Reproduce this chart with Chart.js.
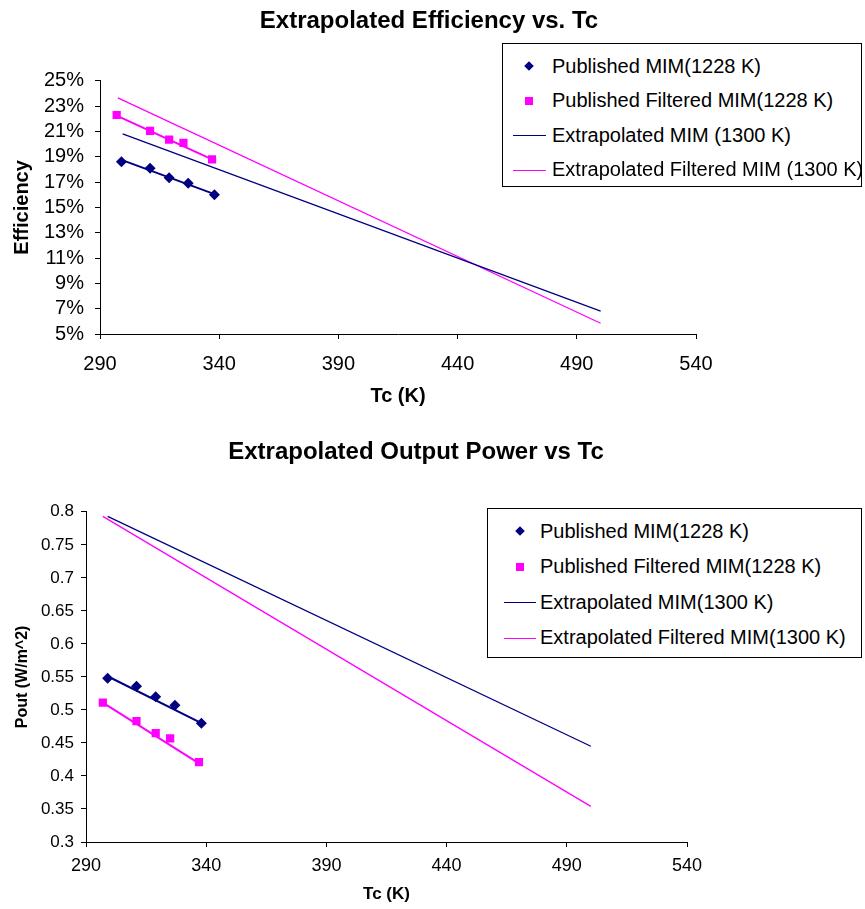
<!DOCTYPE html>
<html>
<head>
<meta charset="utf-8">
<script src="https://cdn.jsdelivr.net/npm/chart.js@4.4.1/dist/chart.umd.min.js"></script>
<style>
  body { margin: 0; background: #fff; width: 865px; height: 909px; position: relative; overflow: hidden; }
  canvas { position: absolute; left: 0; }
  #effChart { top: 0; }
  #powChart { top: 425px; }
  .legend { position: absolute; border: 1px solid #000; background: #fff; box-sizing: border-box;
            font-family: "Liberation Sans", Arial, sans-serif; font-size: 20px; color: #000; }
  .row { position: absolute; left: 0; right: 0; display: flex; align-items: center; white-space: nowrap; }
  .slot { position: relative; flex: none; height: 100%; }
  .mk { position: absolute; top: 50%; }
</style>
</head>
<body>
<canvas id="effChart" width="858" height="425"></canvas>
<canvas id="powChart" width="832" height="484"></canvas>
<div class="legend" id="effLegend" style="left:502px;top:43px;width:360px;height:144px"></div>
<div class="legend" id="powLegend" style="left:487px;top:508px;width:375px;height:150px"></div>
<script>
// ---- data ----
const tcPubMIM = [299, 311, 319, 327, 338];
const tcPubFilt = [297, 311, 319, 325, 337];

// efficiency (%)
const effPubMIM = [18.6, 18.1, 17.35, 16.9, 16.0];
const effPubFilt = [22.3, 21.05, 20.35, 20.1, 18.8];
const effTrendMIMTc = [299, 338];
const effTrendMIM = [18.75, 16.05];
const effTrendFiltTc = [297, 337];
const effTrendFilt = [22.25, 18.8];
const effExtMIMTc = [299.5, 500];
const effExtMIM = [20.8, 6.8];
const effExtFiltTc = [297.5, 500];
const effExtFilt = [23.65, 5.85];

// output power (W/m^2)
const powPubMIM = [0.548, 0.536, 0.520, 0.507, 0.480];
const powPubFilt = [0.511, 0.483, 0.465, 0.457, 0.421];
const powTrendMIMTc = [299, 338];
const powTrendMIM = [0.551, 0.480];
const powTrendFiltTc = [297, 337];
const powTrendFilt = [0.511, 0.419];
const powExtMIMTc = [299, 500];
const powExtMIM = [0.793, 0.445];
const powExtFiltTc = [297, 500];
const powExtFilt = [0.793, 0.354];

const xTicks = [290, 340, 390, 440, 490, 540];

const NAVY = "#000080";
const MAGENTA = "#FF00FF";
const FONT = "'Liberation Sans', Arial, sans-serif";

const pts = (xs, ys) => xs.map((x, i) => ({ x: x, y: ys[i] }));

function makeDatasets(pubMIM, pubFilt, trMIMTc, trMIM, trFiltTc, trFilt, exMIMTc, exMIM, exFiltTc, exFilt, labels) {
    return [
        { label: labels[0], kind: "diamond", data: pts(tcPubMIM, pubMIM), showLine: false,
          pointStyle: "rectRot", pointRadius: 5.5, backgroundColor: NAVY, borderColor: NAVY, borderWidth: 0, order: 0 },
        { label: labels[1], kind: "square", data: pts(tcPubFilt, pubFilt), showLine: false,
          pointStyle: "rect", pointRadius: 5.8, backgroundColor: MAGENTA, borderColor: MAGENTA, borderWidth: 0, order: 0 },
        { label: labels[2], kind: "line", data: pts(exMIMTc, exMIM), showLine: true, pointRadius: 0,
          borderColor: NAVY, backgroundColor: NAVY, borderWidth: 1.3, order: 2 },
        { label: labels[3], kind: "line", data: pts(exFiltTc, exFilt), showLine: true, pointRadius: 0,
          borderColor: MAGENTA, backgroundColor: MAGENTA, borderWidth: 1.3, order: 2 },
        // trend lines through the published points (not in legend)
        { label: "trend1", kind: null, data: pts(trMIMTc, trMIM), showLine: true, pointRadius: 0,
          borderColor: NAVY, borderWidth: 2, order: 1 },
        { label: "trend2", kind: null, data: pts(trFiltTc, trFilt), showLine: true, pointRadius: 0,
          borderColor: MAGENTA, borderWidth: 2, order: 1 }
    ];
}

function axisX(height, tickPad, fonts, titlePadBottom) {
    return {
        type: "linear", min: 290, max: 540,
        afterBuildTicks: s => { s.ticks = xTicks.map(v => ({ value: v })); },
        afterFit: s => { s.height = height; },
        border: { display: true, color: "#000", width: 1 },
        grid: { drawOnChartArea: false, drawTicks: true, tickLength: 5, color: "#000" },
        ticks: { color: "#000", padding: tickPad, autoSkip: false, maxRotation: 0,
                 font: { family: FONT, size: fonts.tick } },
        title: { display: true, text: "Tc (K)", color: "#000",
                 font: { family: FONT, size: fonts.title, weight: "bold" },
                 padding: { top: 0, bottom: titlePadBottom } }
    };
}

// empty right-hand axis that only reserves room for the legend
function spacer(width) {
    return {
        type: "linear", position: "right", display: true,
        afterFit: s => { s.width = width; },
        border: { display: false }, grid: { display: false }, ticks: { display: false }
    };
}

// ---- efficiency chart ----
const effChart = new Chart(document.getElementById("effChart"), {
    type: "scatter",
    data: { datasets: makeDatasets(effPubMIM, effPubFilt, effTrendMIMTc, effTrendMIM, effTrendFiltTc, effTrendFilt,
        effExtMIMTc, effExtMIM, effExtFiltTc, effExtFilt,
        ["Published MIM(1228 K)", "Published Filtered MIM(1228 K)", "Extrapolated MIM (1300 K)", "Extrapolated Filtered MIM (1300 K)"]) },
    options: {
        responsive: false, animation: false,
        layout: { padding: 0 },
        plugins: {
            legend: { display: false }, tooltip: { enabled: false },
            title: { display: true, text: "Extrapolated Efficiency vs. Tc", color: "#000",
                     font: { family: FONT, size: 24, weight: "bold" }, padding: { top: 7, bottom: 45 } }
        },
        scales: {
            x: axisX(91, 13, { tick: 20, title: 20 }, 17),
            y: {
                type: "linear", min: 5, max: 25,
                afterFit: s => { s.width = 100; },
                border: { display: true, color: "#000", width: 1 },
                grid: { drawOnChartArea: false, drawTicks: true, tickLength: 5, color: "#000" },
                ticks: { stepSize: 2, autoSkip: false, color: "#000", padding: 11, font: { family: FONT, size: 20 },
                         callback: v => v + "%" },
                title: { display: true, text: "Efficiency", color: "#000",
                         font: { family: FONT, size: 20, weight: "bold" }, padding: { top: 10, bottom: 0 } }
            },
            pad: spacer(162)
        }
    }
});

// ---- output power chart ----
const powChart = new Chart(document.getElementById("powChart"), {
    type: "scatter",
    data: { datasets: makeDatasets(powPubMIM, powPubFilt, powTrendMIMTc, powTrendMIM, powTrendFiltTc, powTrendFilt,
        powExtMIMTc, powExtMIM, powExtFiltTc, powExtFilt,
        ["Published MIM(1228 K)", "Published Filtered MIM(1228 K)", "Extrapolated MIM(1300 K)", "Extrapolated Filtered MIM(1300 K)"]) },
    options: {
        responsive: false, animation: false,
        layout: { padding: 0 },
        plugins: {
            legend: { display: false }, tooltip: { enabled: false },
            title: { display: true, text: "Extrapolated Output Power vs Tc", color: "#000",
                     font: { family: FONT, size: 24, weight: "bold" }, padding: { top: 13, bottom: 45 } }
        },
        scales: {
            x: axisX(67, 8, { tick: 18, title: 17 }, 4),
            y: {
                type: "linear", min: 0.3, max: 0.8,
                afterFit: s => { s.width = 86; },
                border: { display: true, color: "#000", width: 1 },
                grid: { drawOnChartArea: false, drawTicks: true, tickLength: 5, color: "#000" },
                ticks: { stepSize: 0.05, autoSkip: false, color: "#000", padding: 7, font: { family: FONT, size: 17 },
                         callback: v => String(Number(v.toFixed(2))) },
                title: { display: true, text: "Pout (W/m^2)", color: "#000",
                         font: { family: FONT, size: 16, weight: "bold" }, padding: { top: 13, bottom: 0 } }
            },
            pad: spacer(145)
        }
    }
});

// ---- legends built from the chart datasets ----
function buildLegend(chart, el, g) {
    chart.data.datasets.filter(d => d.kind).forEach((d, i) => {
        const row = document.createElement("div");
        row.className = "row";
        row.style.top = (g.first + i * g.step - g.rowH / 2) + "px";
        row.style.height = g.rowH + "px";
        const slot = document.createElement("div");
        slot.className = "slot";
        slot.style.width = g.textX + "px";
        const mk = document.createElement("div");
        mk.className = "mk";
        if (d.kind === "line") {
            mk.style.left = g.lineX0 + "px";
            mk.style.width = g.lineW + "px";
            mk.style.height = "1px";
            mk.style.background = d.borderColor;
        } else if (d.kind === "diamond") {
            mk.style.left = (g.mx - 4) + "px";
            mk.style.width = "8px"; mk.style.height = "8px"; mk.style.marginTop = "-4px";
            mk.style.background = d.backgroundColor;
            mk.style.transform = "rotate(45deg) scale(0.85)";
        } else {
            mk.style.left = (g.mx - 4) + "px";
            mk.style.width = "8px"; mk.style.height = "8px"; mk.style.marginTop = "-4px";
            mk.style.background = d.backgroundColor;
        }
        slot.appendChild(mk);
        const txt = document.createElement("span");
        txt.textContent = d.label;
        row.appendChild(slot);
        row.appendChild(txt);
        el.appendChild(row);
    });
}

buildLegend(effChart, document.getElementById("effLegend"),
    { first: 22, step: 34.5, rowH: 30, mx: 26, lineX0: 10, lineW: 33, textX: 49 });
buildLegend(powChart, document.getElementById("powLegend"),
    { first: 22, step: 35.5, rowH: 30, mx: 32, lineX0: 16, lineW: 32, textX: 52 });
</script>
</body>
</html>
